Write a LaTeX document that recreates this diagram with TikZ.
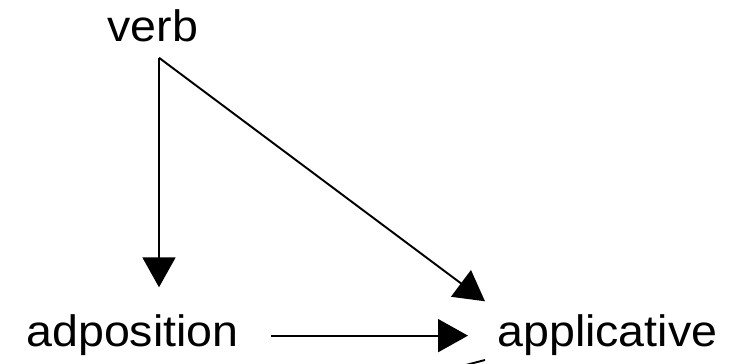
\documentclass[tikz,border=0pt]{standalone}
\usepackage{fontspec}
\setmainfont{Liberation Sans}[FakeStretch=1.06]
\usetikzlibrary{arrows.meta,positioning,calc}
\tikzset{word/.style={ % Sets the properties for each label
            font=\fontsize{25}{30}\selectfont,
            inner xsep=0pt},
        link/.style={ % Sets the properties for each arrow
            draw,
            line width=1.1pt,
            -{Triangle[length=0.6cm,width=0.66cm]}}
        }

\begin{document}
\begin{tikzpicture}
    \useasboundingbox (0,0) rectangle (14.88,7.28);

    \node[word,anchor=base,inner ysep=0.30cm]      (verb) at (3.06,6.44) {verb};
    \node[word,anchor=base west,inner ysep=0.55cm] (adp)  at (0.52,0.34) {adposition};
    \node[word,anchor=base west,inner xsep=0.24cm,inner ysep=0.27cm]
                                                   (appl) at (9.70,0.34) {applicative};

    \coordinate (split) at ([xshift=0.12cm]verb.south);

    \draw[link] (split) -- (split |- adp.north);
    \draw[link] (split) -- (appl.north west);
    \draw[link,shorten <=0.64cm,shorten >=0.34cm] (adp) -- (appl);

    % cut-off stroke at the lower edge
    \coordinate (cut) at (9.32,-0.02);
    \draw[line width=1.1pt] (cut) -- ++(0.38,0.1);
\end{tikzpicture}
\end{document}
